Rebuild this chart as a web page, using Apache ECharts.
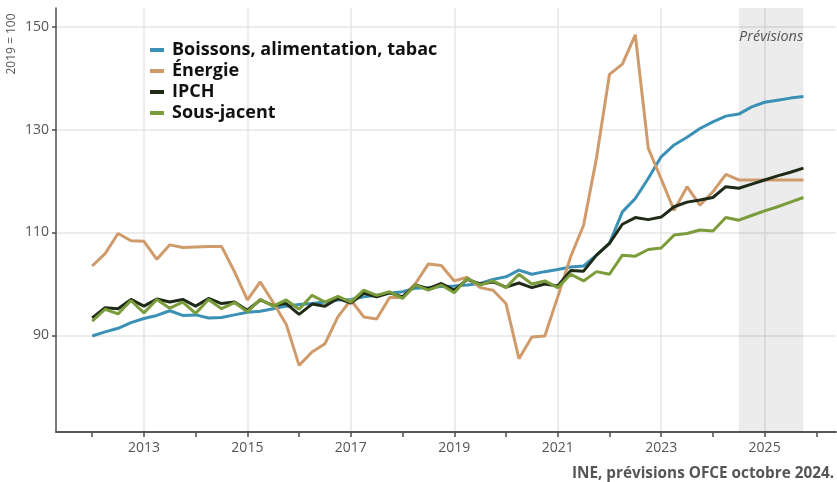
<!DOCTYPE html>
<html>
<head>
<meta charset="utf-8">
<script src="https://cdn.jsdelivr.net/npm/echarts@6/dist/echarts.min.js"></script>
<style>
  html, body { margin: 0; padding: 0; background: #fff; }
  #chart { width: 837px; height: 482px; }
</style>
</head>
<body>
<div id="chart"></div>
<script>
// trimestres 2012T1 -> 2025T4
const startYear = 2012;
const yearLabels = [2013, 2015, 2017, 2019, 2021, 2023, 2025];
const yearTicks = [2012, 2013, 2014, 2015, 2016, 2017, 2018, 2019, 2020, 2021, 2022, 2023, 2024, 2025, 2026];
const yTicks = [90, 110, 130, 150];
const forecastStart = 2024.5;
const forecastEnd = 2025.75;

const boissons = [
  89.9, 90.7, 91.4, 92.5, 93.3, 93.9, 94.8, 93.9, 94.0, 93.4,
  93.5, 94.0, 94.5, 94.7, 95.2, 95.7, 96.0, 96.2, 96.5, 96.9,
  97.0, 97.5, 97.8, 98.2, 98.5, 99.2, 99.3, 99.5, 99.6, 99.8,
  100.1, 100.9, 101.4, 102.7, 101.9, 102.4, 102.8, 103.3, 103.5, 105.6,
  107.9, 114.0, 116.6, 120.5, 124.7, 127.0, 128.5, 130.2, 131.5, 132.6,
  133.0, 134.4, 135.3, 135.7, 136.1, 136.4
];
const energie = [
  103.5, 105.9, 109.8, 108.4, 108.3, 104.8, 107.6, 107.1, 107.2, 107.3,
  107.3, 102.4, 96.9, 100.4, 96.4, 92.2, 84.2, 86.8, 88.4, 93.6,
  96.9, 93.6, 93.2, 97.4, 97.4, 100.1, 103.9, 103.6, 100.6, 101.3,
  99.3, 98.8, 96.2, 85.5, 89.7, 89.9, 97.5, 105.3, 111.4, 124.5,
  140.7, 142.7, 148.4, 126.4, 120.4, 114.3, 118.9, 115.3, 117.9, 121.3,
  120.2, 120.2, 120.2, 120.2, 120.2, 120.2
];
const ipch = [
  93.4, 95.4, 95.2, 97.0, 95.7, 97.1, 96.5, 97.0, 95.7, 97.2,
  96.2, 96.5, 94.9, 96.9, 95.8, 96.2, 94.1, 96.1, 95.7, 97.2,
  96.3, 98.2, 97.5, 98.3, 97.5, 99.8, 99.1, 100.1, 98.8, 100.9,
  100.0, 100.4, 99.4, 100.2, 99.3, 100.0, 99.6, 102.6, 102.5, 105.6,
  107.9, 111.6, 112.9, 112.5, 113.0, 115.0, 115.9, 116.3, 116.8, 118.9,
  118.6, 119.4, 120.2, 121.0, 121.7, 122.5
];
const sousJacent = [
  92.8, 95.1, 94.2, 96.8, 94.4, 97.0, 95.3, 96.5, 94.3, 97.0,
  95.2, 96.4, 94.6, 97.0, 95.7, 96.9, 95.1, 97.8, 96.5, 97.6,
  96.5, 98.8, 97.8, 98.5, 97.2, 99.8, 98.8, 99.8, 98.3, 101.1,
  99.8, 100.6, 99.3, 101.9, 100.0, 100.6, 99.3, 101.9, 100.6, 102.4,
  101.9, 105.6, 105.4, 106.7, 107.0, 109.5, 109.8, 110.5, 110.3, 112.9,
  112.4, 113.3, 114.2, 115.0, 115.9, 116.8
];

const toPoints = (arr) => arr.map((v, i) => [startYear + i / 4, v]);

const chart = echarts.init(document.getElementById('chart'));
const font = 'Open Sans';

const lineSeries = (name, data, color) => ({
  name: name,
  type: 'line',
  data: toPoints(data),
  showSymbol: false,
  symbol: 'none',
  lineStyle: { color: color, width: 3 },
  itemStyle: { color: color }
});

const option = {
  animation: false,
  backgroundColor: '#fff',
  textStyle: { fontFamily: font },
  grid: { left: 56, right: 1, top: 8, bottom: 50, containLabel: false },
  legend: {
    orient: 'vertical',
    left: 145,
    top: 36,
    icon: 'rect',
    itemWidth: 14,
    itemHeight: 4,
    itemGap: 3,
    data: ['Boissons, alimentation, tabac', 'Énergie', 'IPCH', 'Sous-jacent'],
    textStyle: { fontFamily: font, fontSize: 18, fontWeight: 'bold', color: '#111', lineHeight: 18, padding: [0, 0, 0, 3] }
  },
  xAxis: [
    {
      type: 'value',
      position: 'bottom',
      min: 2011.3,
      max: 2026.38,
      axisLine: { lineStyle: { color: '#4d4d4d', width: 1.5 } },
      axisTick: { customValues: yearLabels, length: 5, lineStyle: { color: '#4d4d4d', width: 1.5 } },
      axisLabel: { customValues: yearLabels, fontSize: 14, color: '#555', margin: 9, formatter: (v) => String(v) },
      splitLine: { show: true, lineStyle: { color: '#e6e6e6', width: 1.5 } }
    },
    {
      type: 'value',
      position: 'bottom',
      min: 2011.3,
      max: 2026.38,
      axisLine: { show: true, lineStyle: { color: '#4d4d4d', width: 1.5 } },
      axisTick: { customValues: yearTicks, length: 5, lineStyle: { color: '#4d4d4d', width: 1.5 } },
      axisLabel: { show: false },
      splitLine: { show: false }
    }
  ],
  yAxis: {
    type: 'value',
    min: 71.26,
    max: 153.6,
    axisLine: { show: true, lineStyle: { color: '#4d4d4d', width: 1.5 } },
    axisTick: { show: true, customValues: yTicks, length: 4, lineStyle: { color: '#4d4d4d', width: 1.5 } },
    axisLabel: { customValues: yTicks, fontSize: 14, color: '#555', margin: 7 },
    splitLine: { show: true, lineStyle: { color: '#e6e6e6', width: 1.5 } }
  },
  graphic: [
    {
      type: 'text',
      x: 12,
      y: 44,
      rotation: Math.PI / 2,
      style: { text: '2019 = 100', fontFamily: font, fontSize: 12, fill: '#555', align: 'center', verticalAlign: 'middle' }
    },
    {
      type: 'text',
      right: 3,
      top: 466,
      style: { text: 'INE, prévisions OFCE octobre 2024.', fontFamily: font, fontSize: 15.3, fontWeight: 'bold', fill: '#555' }
    }
  ],
  series: [
    Object.assign(lineSeries('Boissons, alimentation, tabac', boissons, '#3b90b6'), {
      markArea: {
        silent: true,
        itemStyle: { color: 'rgba(0,0,0,0.075)' },
        label: {
          show: true,
          position: 'insideTop',
          distance: 21,
          fontFamily: font,
          fontSize: 14.5,
          fontStyle: 'italic',
          color: '#555'
        },
        data: [[{ name: 'Prévisions', xAxis: forecastStart }, { xAxis: forecastEnd }]]
      }
    }),
    lineSeries('Énergie', energie, '#cf9b6b'),
    lineSeries('IPCH', ipch, '#1f2b16'),
    lineSeries('Sous-jacent', sousJacent, '#7a9c3b')
  ]
};

chart.setOption(option);
window.addEventListener('resize', () => chart.resize());
</script>
</body>
</html>
